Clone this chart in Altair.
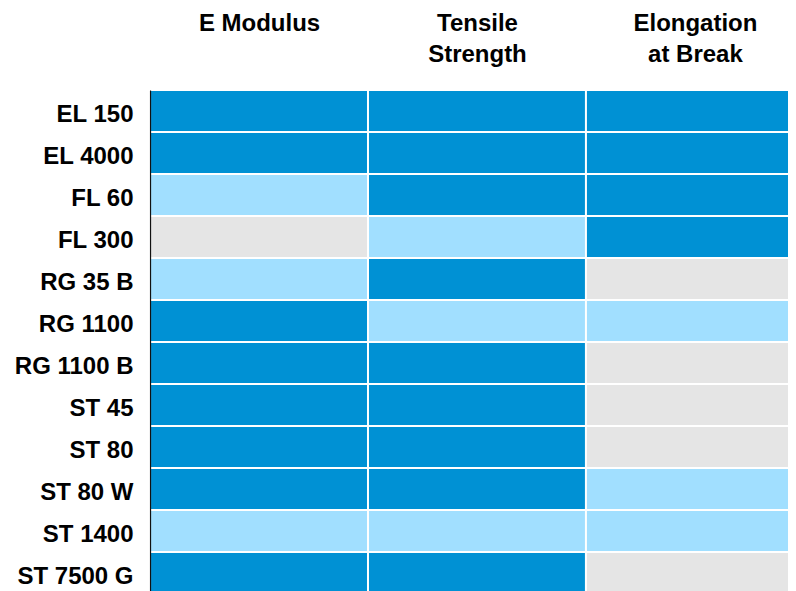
import altair as alt
import pandas as pd

rows = ["EL 150", "EL 4000", "FL 60", "FL 300", "RG 35 B", "RG 1100",
        "RG 1100 B", "ST 45", "ST 80", "ST 80 W", "ST 1400", "ST 7500 G"]
columns = ["E Modulus", "Tensile|Strength", "Elongation|at Break"]

# H = high (dark blue), M = medium (light blue), L = low (grey)
e_modulus = ["H", "H", "M", "L", "M", "H", "H", "H", "H", "H", "M", "H"]
tensile = ["H", "H", "H", "M", "H", "M", "H", "H", "H", "H", "M", "H"]
elongation = ["H", "H", "H", "H", "L", "M", "L", "L", "L", "M", "M", "L"]

levels = ["H", "M", "L"]
colors = ["#0091d4", "#a1dfff", "#e5e5e5"]

records = []
for ci, (col, vals) in enumerate(zip(columns, [e_modulus, tensile, elongation])):
    for r, v in zip(rows, vals):
        records.append({"product": r, "property": col, "level": v,
                        "c0": ci, "c1": ci + 1})
df = pd.DataFrame(records)

FONT = "Liberation Sans"
K = 804 / 796  # the page is a little wider than the window
PAD_L, PAD_T = 143.5, 79.9
CHART_W = 788
PLOT_W = CHART_W - PAD_L
ROW_PX = 42 * K
PLOT_H = ROW_PX * len(rows)
COL_PX = 218 * K  # the last column runs past the right edge of the picture
FS = 24 * K

label_expr = (f"datum.value < 1 ? split('{columns[0]}', '|') : "
              f"datum.value < 2 ? split('{columns[1]}', '|') : "
              f"split('{columns[2]}', '|')")

chart = alt.Chart(df).mark_rect(stroke="white", strokeWidth=2, clip=True).encode(
    x=alt.X("c0:Q",
            scale=alt.Scale(domain=[0, PLOT_W / COL_PX], nice=False, zero=False),
            axis=alt.Axis(orient="top", title=None, labelAngle=0, ticks=False,
                          tickSize=0, domain=False, grid=False,
                          values=[i + 0.5 for i in range(len(columns))],
                          labelPadding=79.5, labelBaseline="top",
                          labelAlign="center", labelFlush=False,
                          labelOverlap=False,
                          labelFont=FONT, labelFontSize=FS, labelFontWeight="bold",
                          labelColor="black", labelLineHeight=31 * K,
                          labelExpr=label_expr)),
    x2="c1:Q",
    y=alt.Y("product:N", sort=rows,
            scale=alt.Scale(paddingInner=0, paddingOuter=0),
            axis=alt.Axis(title=None, ticks=False, tickSize=0, domain=True,
                          domainColor="#111111", domainWidth=1.2, zindex=1,
                          labelPadding=17.2, labelOffset=4,
                          labelFont=FONT, labelFontSize=FS,
                          labelFontWeight="bold", labelColor="black",
                          labelLimit=300)),
    color=alt.Color("level:N", scale=alt.Scale(domain=levels, range=colors),
                    legend=None),
).properties(
    width=PLOT_W, height=PLOT_H,
    autosize=alt.AutoSizeParams(type="none"),
    padding={"left": PAD_L, "top": PAD_T, "right": 0, "bottom": 0},
).configure_view(stroke=None)

chart.save("out.html", embed_options={"renderer": "svg", "actions": False})
